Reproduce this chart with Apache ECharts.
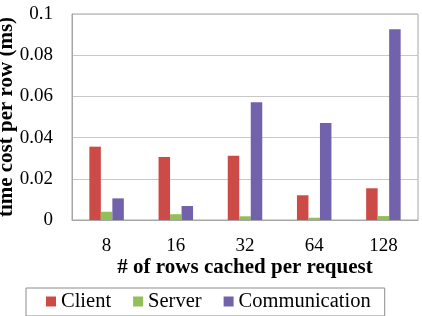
<!DOCTYPE html>
<html>
<head>
<meta charset="utf-8">
<script src="https://cdn.jsdelivr.net/npm/echarts@6/dist/echarts.min.js"></script>
<style>
  html, body { margin: 0; padding: 0; background: #fff; }
  #main { width: 422px; height: 316px; }
</style>
</head>
<body>
<div id="main"></div>
<script>
var categories = ['8', '16', '32', '64', '128'];
var client = [0.0356, 0.0306, 0.0312, 0.0120, 0.0154];
var server = [0.0040, 0.0028, 0.0018, 0.0011, 0.0019];
var communication = [0.0105, 0.0068, 0.0571, 0.0471, 0.0926];
var yTicks = [0, 0.02, 0.04, 0.06, 0.08, 0.1];

var font = '"Liberation Serif", "Times New Roman", serif';
var myChart = echarts.init(document.getElementById('main'));

myChart.setOption({
    animation: false,
    textStyle: { fontFamily: font, color: '#000' },
    grid: {
        left: 72, right: 4, top: 14, bottom: 96,
        outerBoundsMode: 'none',
        containLabel: false,
        show: true, borderColor: '#a6a6a6', borderWidth: 1
    },
    legend: {
        left: 26, top: 288,
        itemWidth: 10, itemHeight: 10,
        itemGap: 22,
        icon: 'rect',
        padding: [3, 14, 4, 20],
        borderColor: '#8c8c8c', borderWidth: 1, borderRadius: 0,
        textStyle: { fontFamily: font, fontSize: 20.5, color: '#000' },
        data: ['Client', 'Server', 'Communication']
    },
    xAxis: {
        type: 'category',
        data: categories,
        name: '# of rows cached per request',
        nameLocation: 'middle',
        nameGap: 37,
        nameMoveOverlap: false,
        nameTextStyle: { fontFamily: font, fontSize: 21, fontWeight: 'bold', color: '#000' },
        axisLine: { lineStyle: { color: '#a6a6a6' } },
        axisTick: { show: false },
        axisLabel: { fontFamily: font, fontSize: 19, color: '#000', margin: 17 }
    },
    yAxis: {
        type: 'value',
        min: 0, max: 0.1, interval: 0.02,
        name: 'time cost per row (ms)',
        nameLocation: 'middle',
        nameRotate: 90,
        nameGap: 55,
        nameMoveOverlap: false,
        nameTextStyle: { fontFamily: font, fontSize: 21, fontWeight: 'bold', color: '#000' },
        axisLine: { show: true, lineStyle: { color: '#a6a6a6' } },
        axisTick: { show: false },
        splitLine: { lineStyle: { color: '#c8c8c8' } },
        axisLabel: {
            fontFamily: font, fontSize: 19, color: '#000', margin: 19,
            formatter: function (v) {
                for (var i = 0; i < yTicks.length; i++) {
                    if (Math.abs(yTicks[i] - v) < 1e-9) return String(yTicks[i]);
                }
                return '';
            }
        }
    },
    series: [
        { name: 'Client', type: 'bar', data: client, barWidth: 11.5, barGap: '0%', barCategoryGap: '50%', itemStyle: { color: '#cc4b46' } },
        { name: 'Server', type: 'bar', data: server, barWidth: 11.5, barGap: '0%', itemStyle: { color: '#93bf59' } },
        { name: 'Communication', type: 'bar', data: communication, barWidth: 11.5, barGap: '0%', itemStyle: { color: '#7262ab' } }
    ]
});
</script>
</body>
</html>
